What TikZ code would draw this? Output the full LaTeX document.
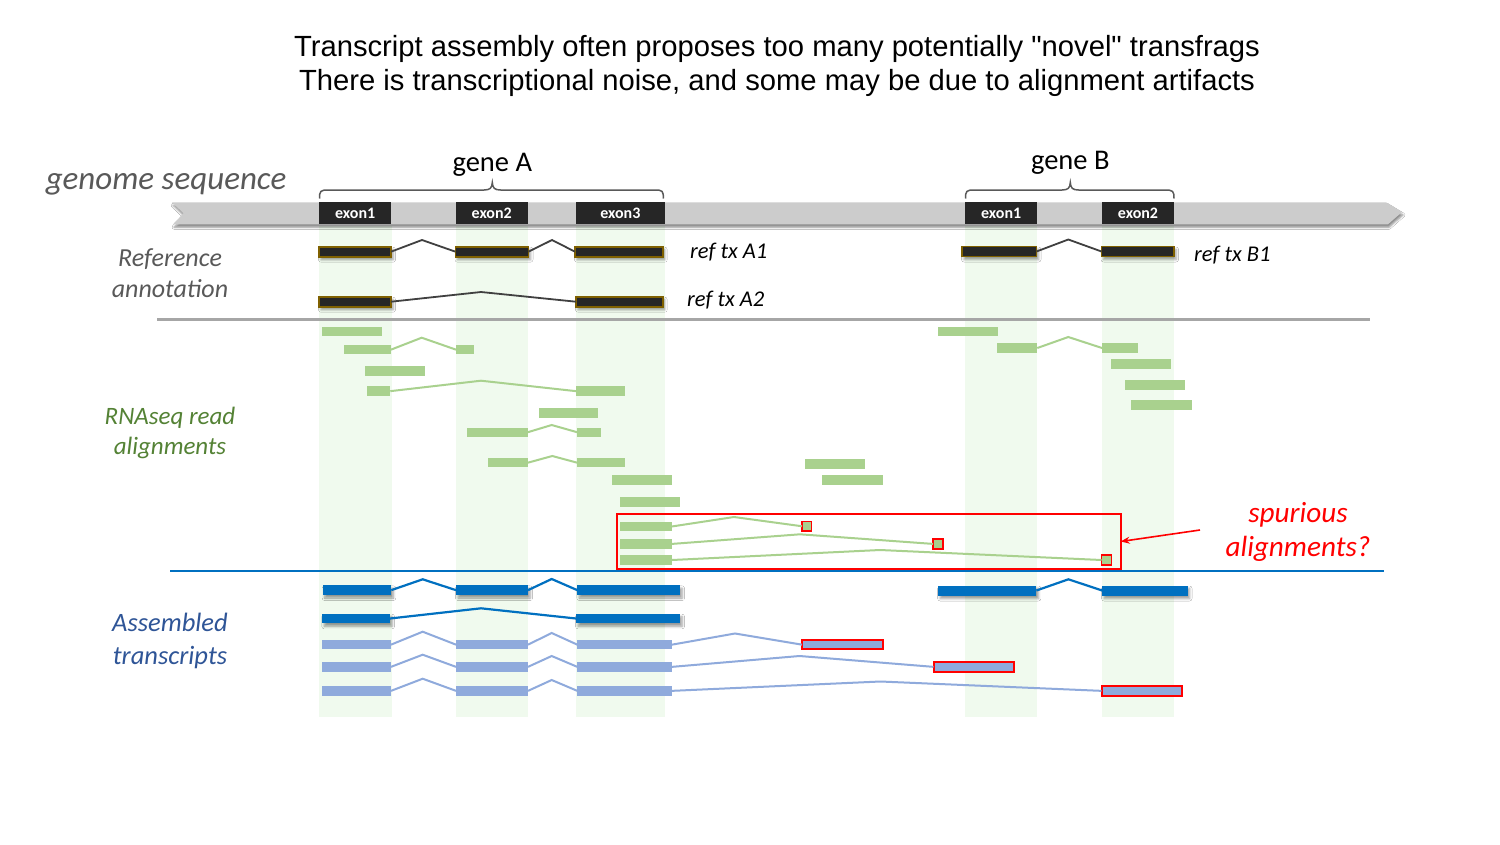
\documentclass[tikz,border=0pt]{standalone}
\usepackage{fontspec}
\setmainfont{Carlito}
\newfontfamily\titlefont{Liberation Sans}
\usetikzlibrary{arrows.meta,shadows.blur}
\definecolor{dk}{HTML}{262626}
\definecolor{gold}{HTML}{7F6000}
\definecolor{rdg}{HTML}{A9D18E}
\definecolor{asdc}{HTML}{0070C0}
\definecolor{aslc}{HTML}{8FAADC}
\definecolor{band}{HTML}{F0FAEE}
\definecolor{barc}{HTML}{CCCCCC}
\definecolor{redc}{HTML}{FF0000}
\definecolor{labgray}{HTML}{595959}
\definecolor{labgreen}{HTML}{548235}
\definecolor{labblue}{HTML}{2F5597}
\definecolor{divgray}{HTML}{A6A6A6}
\definecolor{intgray}{HTML}{404040}
\newcommand\bxt[7]{\node[#1,minimum width={(#4-#3)*1pt},minimum height={(#6-#5)*1pt}] (#2) at ({(#3+#4)/2},{(#5+#6)/2}) {#7};}
\newcommand\bx[6]{\bxt{#1}{#2}{#3}{#4}{#5}{#6}{}}
\tikzset{
  base/.style={rectangle,inner sep=0pt,outer sep=0pt},
  shad/.style={blur shadow={shadow xshift=2pt,shadow yshift=-3pt,shadow blur radius=2.5pt,shadow opacity=40}},
  exonbox/.style={base,fill=dk,text=white,font=\bfseries\fontsize{16}{16}\selectfont},
  refblk/.style={base,fill=dk,draw=gold,line width=1.6pt,shad},
  rdblk/.style={base,fill=rdg},
  sqblk/.style={base,fill=rdg,draw=redc,line width=1.8pt},
  asdblk/.style={base,fill=asdc,shad},
  aslblk/.style={base,fill=aslc},
  asrblk/.style={base,fill=aslc,draw=redc,line width=2pt},
  inref/.style={draw=intgray,line width=1.8pt},
  inrd/.style={draw=rdg,line width=2pt},
  inasd/.style={draw=asdc,line width=2.2pt},
  inasl/.style={draw=aslc,line width=2pt},
  lab/.style={align=center,inner sep=0pt},
  txlab/.style={anchor=west,inner sep=0pt,font=\itshape\fontsize{22.5}{22.5}\selectfont},
}
\begin{document}
\begin{tikzpicture}[x=1pt,y=-1pt]
\useasboundingbox (0,0) rectangle (1500,844);
\fill[white] (0,0) rectangle (1500,844);
% title
\node[lab,font=\titlefont\fontsize{29.2}{34.5}\selectfont] (title) at (777,66) {Transcript assembly often proposes too many potentially "novel" transfrags\\There is transcriptional noise, and some may be due to alignment artifacts};
% exon bands
\fill[band] (319,226) rectangle (391.5,717);
\fill[band] (455.5,226) rectangle (528,717);
\fill[band] (576,226) rectangle (664.7,717);
\fill[band] (965,226) rectangle (1037.3,717);
\fill[band] (1102,226) rectangle (1174,717);
% dividers
\draw[divgray,line width=2.5pt] (157,319.7) -- (1370,319.7);
\draw[asdc,line width=2pt] (170,570.7) -- (1384,570.7);
% genome bar
\fill[barc,blur shadow={shadow xshift=1pt,shadow yshift=-3pt,shadow blur radius=2pt,shadow opacity=45}]
  (172,202.3) -- (1386,202.3) -- (1402,212) -- (1388,224.3) -- (173,224.3) -- (183.5,213.3) -- cycle;
\bxt{exonbox}{eA1}{319}{391.4}{202.3}{224.3}{exon1}
\bxt{exonbox}{eA2}{455.5}{528}{202.3}{224.3}{exon2}
\bxt{exonbox}{eA3}{576}{664.7}{202.3}{224.3}{exon3}
\bxt{exonbox}{eB1}{965}{1037.3}{202.3}{224.3}{exon1}
\bxt{exonbox}{eB2}{1102}{1174}{202.3}{224.3}{exon2}
% braces
\draw[labgray,line width=1.5pt] (319.5,198.5) .. controls (319.5,191) and (320.5,190) .. (328,190) -- (484,190) .. controls (490,190) and (492,188) .. (492.3,182.5) .. controls (492.6,188) and (494.6,190) .. (500.6,190) -- (655,190) .. controls (662.5,190) and (663.4,191) .. (663.4,198.5);
\draw[labgray,line width=1.5pt] (965.5,198.5) .. controls (965.5,191) and (966.5,190) .. (974,190) -- (1062,190) .. controls (1068,190) and (1070,188) .. (1070.3,182.5) .. controls (1070.6,188) and (1072.6,190) .. (1078.6,190) -- (1165,190) .. controls (1173,190) and (1174,191) .. (1174,198.5);
\node[font=\fontsize{28.5}{28.5}\selectfont] (gA) at (492.3,165) {gene A};
\node[font=\fontsize{28.5}{28.5}\selectfont] (gB) at (1070.3,163) {gene B};
% left labels
\node[lab,text=labgray,font=\itshape\fontsize{33}{33}\selectfont] (gs) at (166,184) {genome sequence};
\node[lab,text=labgray,font=\itshape\fontsize{26}{31.5}\selectfont] (ra) at (170,273) {Reference\\annotation};
\node[lab,text=labgreen,font=\itshape\fontsize{25}{30}\selectfont] (rn) at (170,433) {RNAseq read\\alignments};
\node[lab,text=labblue,font=\itshape\fontsize{26.5}{33}\selectfont] (as) at (170,641) {Assembled\\transcripts};
\node[lab,text=redc,font=\itshape\fontsize{29.2}{34.5}\selectfont] (sp) at (1298,532) {spurious\\alignments?};
% reference annotation
\bx{refblk}{rA11}{319}{391}{246.7}{256.7}
\bx{refblk}{rA12}{455.5}{528.5}{246.7}{256.7}
\bx{refblk}{rA13}{575}{662.7}{246.7}{256.7}
\draw[inref] (rA11.east) -- (422,240) -- (rA12.west);
\draw[inref] (rA12.east) -- (552,240) -- (rA13.west);
\bx{refblk}{rA21}{319}{391}{296.7}{306.7}
\bx{refblk}{rA22}{576}{662.7}{296.7}{306.7}
\draw[inref] (rA21.east) -- (481,292) -- (rA22.west);
\bx{refblk}{rB11}{962}{1036.5}{246.5}{256.5}
\bx{refblk}{rB12}{1101.5}{1174}{246.5}{256.5}
\draw[inref] (rB11.east) -- (1068.3,239.5) -- (rB12.west);
\node[txlab] (tA1) at (690,252) {ref tx A1};
\node[txlab] (tA2) at (687,300) {ref tx A2};
\node[txlab] (tB1) at (1194,255) {ref tx B1};
% RNAseq reads, gene A
\bx{rdblk}{d1}{321.7}{382}{327}{336.3}
\bx{rdblk}{d2a}{344}{391}{345}{354.3}
\bx{rdblk}{d2b}{456}{473.7}{345}{354.3}
\draw[inrd] (d2a.east) -- (421.7,337.7) -- (d2b.west);
\bx{rdblk}{d3}{365}{425}{366.3}{375.7}
\bx{rdblk}{d4a}{366.7}{390.3}{386.3}{396}
\bx{rdblk}{d4b}{576}{624.7}{386.3}{396}
\draw[inrd] (d4a.east) -- (481,380.7) -- (d4b.west);
\bx{rdblk}{d5}{538.7}{598.3}{408}{417.7}
\bx{rdblk}{d6a}{467}{527.7}{427.7}{436.8}
\bx{rdblk}{d6b}{577.3}{601}{427.7}{436.8}
\draw[inrd] (d6a.east) -- (551.7,425) -- (d6b.west);
\bx{rdblk}{d7a}{488}{528}{458}{467.3}
\bx{rdblk}{d7b}{577}{625.3}{458}{467.3}
\draw[inrd] (d7a.east) -- (552.3,456) -- (d7b.west);
\bx{rdblk}{d8}{612.3}{672.3}{475.3}{485}
\bx{rdblk}{d9}{620}{680}{497.3}{507}
\bx{rdblk}{d10}{620}{671.7}{522}{531}
\bx{sqblk}{q10}{802}{811.5}{521.5}{531}
\draw[inrd] (d10.east) -- (734,517) -- (q10.west);
\bx{rdblk}{d11}{620}{672}{539.3}{548.5}
\bx{sqblk}{q11}{933}{943}{539}{548.8}
\draw[inrd] (d11.east) -- (800,534.3) -- (q11.west);
\bx{rdblk}{d12}{620}{672}{555.3}{564.7}
\bx{sqblk}{q12}{1101.5}{1111.5}{555}{565}
\draw[inrd] (d12.east) -- (880,550) -- (q12.west);
% middle reads
\bx{rdblk}{d13}{805}{865.3}{459.3}{469}
\bx{rdblk}{d14}{822.3}{882.7}{475}{484.7}
% gene B reads
\bx{rdblk}{d15}{937.7}{998}{327}{336.3}
\bx{rdblk}{d16a}{997.3}{1037.3}{343.3}{352.7}
\bx{rdblk}{d16b}{1102}{1138}{343.3}{352.7}
\draw[inrd] (d16a.east) -- (1068.3,337) -- (d16b.west);
\bx{rdblk}{d17}{1111}{1171}{359.3}{369}
\bx{rdblk}{d18}{1125}{1185}{380.3}{389.7}
\bx{rdblk}{d19}{1131.3}{1191.7}{400.3}{410}
% spurious box and arrow
\bx{base,draw=redc,line width=1.6pt}{sbox}{616.7}{1120.7}{514}{569}
\coordinate (arrtail) at (1200,530);
\draw[redc,line width=1.6pt,-{Stealth[length=9pt,width=7pt]}] (arrtail) -- (sbox.east);
% assembled transcripts: dark
\bx{asdblk}{a11}{322.7}{391.3}{585.3}{595}
\bx{asdblk}{a12}{456}{528}{585.3}{595}
\bx{asdblk}{a13}{577.3}{680}{585.3}{595}
\draw[inasd] (a11.east) -- (422.7,579.3) -- (a12.west);
\draw[inasd] (a12.east) -- (551.7,579) -- (a13.west);
\bx{asdblk}{b11}{938.2}{1036.4}{585.5}{595.5}
\bx{asdblk}{b12}{1102.1}{1187.5}{585.5}{595.5}
\draw[inasd] (b11.east) -- (1068.4,579.3) -- (b12.west);
\bx{asdblk}{a21}{322.3}{390}{613.7}{623.3}
\bx{asdblk}{a22}{576}{680}{613.7}{623.3}
\draw[inasd] (a21.east) -- (481,608.3) -- (a22.west);
% assembled transcripts: light
\bx{aslblk}{la1}{322.3}{391}{640}{649.3}
\bx{aslblk}{la2}{456}{528}{640}{649.3}
\bx{aslblk}{la3}{577.3}{672}{640}{649.3}
\bx{asrblk}{la4}{802}{882.5}{640}{649.3}
\draw[inasl] (la1.east) -- (422.7,631.7) -- (la2.west);
\draw[inasl] (la2.east) -- (551.7,633) -- (la3.west);
\draw[inasl] (la3.east) -- (735,633.5) -- (la4.west);
\bx{aslblk}{lb1}{322.3}{391}{662}{671.7}
\bx{aslblk}{lb2}{456}{528}{662}{671.7}
\bx{aslblk}{lb3}{577.3}{672}{662}{671.7}
\bx{asrblk}{lb4}{933.5}{1013.5}{662}{671.7}
\draw[inasl] (lb1.east) -- (422.7,654.7) -- (lb2.west);
\draw[inasl] (lb2.east) -- (551.7,656) -- (lb3.west);
\draw[inasl] (lb3.east) -- (799.5,656) -- (lb4.west);
\bx{aslblk}{lc1}{322.3}{391}{686}{695.7}
\bx{aslblk}{lc2}{456}{528}{686}{695.7}
\bx{aslblk}{lc3}{577.3}{672}{686}{695.7}
\bx{asrblk}{lc4}{1101.5}{1181.5}{686}{695.7}
\draw[inasl] (lc1.east) -- (422.7,678.7) -- (lc2.west);
\draw[inasl] (lc2.east) -- (551.7,680) -- (lc3.west);
\draw[inasl] (lc3.east) -- (880.4,681.5) -- (lc4.west);
\end{tikzpicture}
\end{document}
